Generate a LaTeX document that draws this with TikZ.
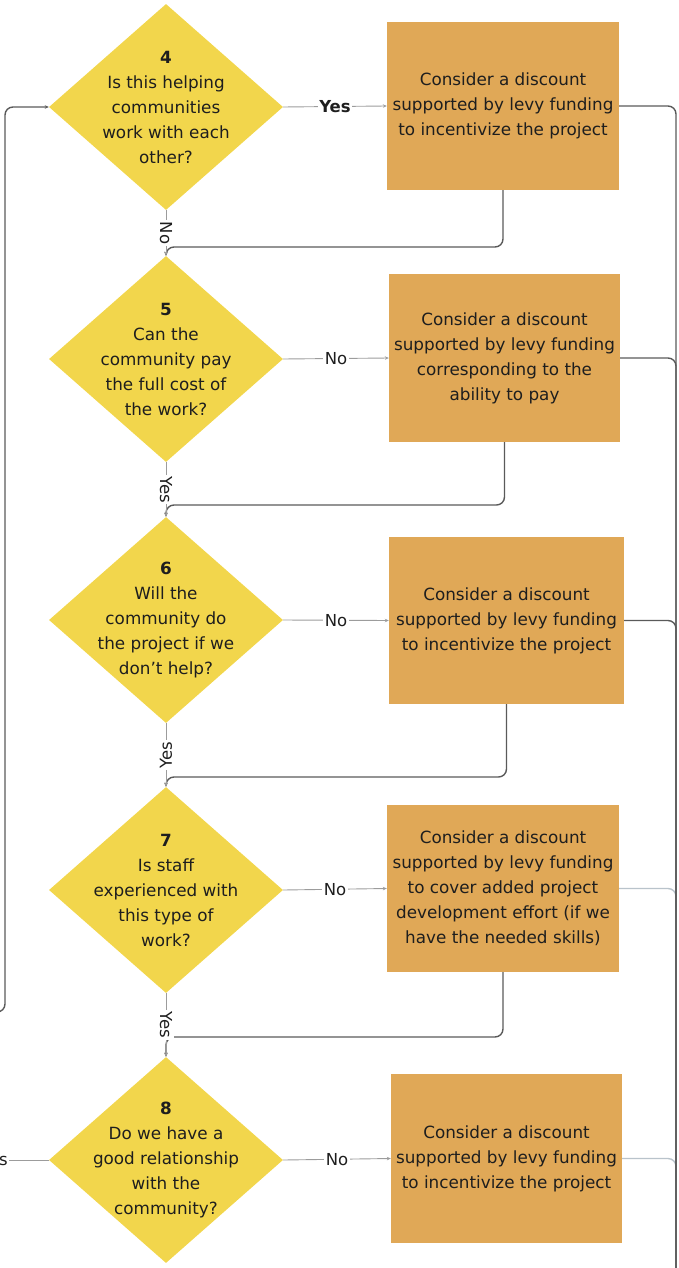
\documentclass[tikz,border=0pt]{standalone}
\usepackage{fontspec}
\setmainfont{DejaVu Sans}
\usetikzlibrary{shapes.geometric,arrows.meta}
\definecolor{dyellow}{HTML}{F2D64C}
\definecolor{borange}{HTML}{E0A857}
\definecolor{txt}{HTML}{1E1E1E}
\definecolor{darkline}{HTML}{5A5A5A}
\definecolor{lightline}{HTML}{9C9C9C}
\definecolor{blueline}{HTML}{B9C3CB}
\tikzset{
  dia/.style={shape=diamond, fill=dyellow, draw=none, inner sep=0pt, minimum width=234pt, minimum height=206pt},
  qtext/.style={text=txt, align=center, font=\fontsize{16.8}{25}\selectfont},
  box/.style={fill=borange, draw=none, inner sep=0pt, text=txt, align=center, font=\fontsize{16.8}{25}\selectfont},
  lab/.style={draw=lightline, line width=0.9pt, -{Stealth[length=4pt,width=3.5pt]}},
  lbl/.style={fill=white, text=txt, inner sep=1.5pt, font=\fontsize{16.5}{18}\selectfont},
  loopline/.style={draw=darkline, line width=1.4pt, rounded corners=8pt},
  arr/.style={-{Stealth[length=4pt,width=3.5pt]}},
}
\begin{document}
\begin{tikzpicture}[x=1pt,y=-1pt]
\useasboundingbox (0,0) rectangle (679,1268);
% diamonds
\node[dia] (d4) at (166,107) {};
\node[dia] (d5) at (166,359) {};
\node[dia] (d6) at (166,620) {};
\node[dia] (d7) at (166,890) {};
\node[dia] (d8) at (166,1160) {};
\node[qtext] (t4) at (d4) {\textbf{4}\\Is this helping\\communities\\work with each\\other?};
\node[qtext] (t5) at (d5) {\textbf{5}\\Can the\\community pay\\the full cost of\\the work?};
\node[qtext] (t6) at (d6) {\textbf{6}\\Will the\\community do\\the project if we\\don’t help?};
\node[qtext] (t7) at (d7) {\textbf{7}\\Is staff\\experienced with\\this type of\\work?};
\node[qtext] (t8) at (d8) {\textbf{8}\\Do we have a\\good relationship\\with the\\community?};
% boxes
\node[box, minimum width=232pt, minimum height=168pt] (b1) at (503,106) {Consider a discount\\supported by levy funding\\to incentivize the project};
\node[box, minimum width=231pt, minimum height=168pt] (b2) at (504.5,358) {Consider a discount\\supported by levy funding\\corresponding to the\\ability to pay};
\node[box, minimum width=235pt, minimum height=167pt] (b3) at (506.5,620.5) {Consider a discount\\supported by levy funding\\to incentivize the project};
\node[box, minimum width=232pt, minimum height=167pt] (b4) at (503,888.5) {Consider a discount\\supported by levy funding\\to cover added project\\development effort (if we\\have the needed skills)};
\node[box, minimum width=231pt, minimum height=169pt] (b5) at (506.5,1158.5) {Consider a discount\\supported by levy funding\\to incentivize the project};
% coordinates
\coordinate (rbot) at (676,1300);
\coordinate (r4) at (676,910);
\coordinate (r5) at (676,1180);
\coordinate (j5) at (166,247);
\coordinate (j6) at (166,505);
\coordinate (j7) at (166,777);
\coordinate (j8) at (166,1037);
\coordinate (lstart) at (-30,1012);
\coordinate (lc1) at (5,1012);
\coordinate (lc2) at (5,107);
\coordinate (yesend) at (-60,1160);
% right rail
\draw[loopline, draw=blueline] (b4.east) -| (r4);
\draw[loopline, draw=blueline] (b5.east) -| (r5);
\draw[loopline] (b1.east) -| (rbot);
\draw[loopline] (b2.east) -| (rbot);
\draw[loopline] (b3.east) -| (rbot);
% box bottoms back to spine
\draw[loopline, arr] (b1.south) |- (j5) -- (d5.north);
\draw[loopline, arr] (b2.south) |- (j6) -- (d6.north);
\draw[loopline, arr] (b3.south) |- (j7) -- (d7.north);
\draw[loopline, arr] (b4.south) |- (j8) -- (d8.north);
% left loop
\draw[loopline, arr] (lstart) -- (lc1) -- (lc2) -- (d4.west);
% decision to box
\draw[lab] (d4.east) -- node[lbl]{\textbf{Yes}} (b1.west);
\draw[lab] (d5.east) -- node[lbl]{No} (b2.west);
\draw[lab] (d6.east) -- node[lbl]{No} (b3.west);
\draw[lab] (d7.east) -- node[lbl]{No} (b4.west);
\draw[lab] (d8.east) -- node[lbl]{No} (b5.west);
% vertical spine labels
\draw[lab] (d4.south) -- node[lbl, rotate=-90]{No} (d5.north);
\draw[lab] (d5.south) -- node[lbl, rotate=-90]{Yes} (d6.north);
\draw[lab] (d6.south) -- node[lbl, rotate=90]{Yes} (d7.north);
\draw[lab] (d7.south) -- node[lbl, rotate=-90]{Yes} (d8.north);
% left exit of 8
\draw[draw=lightline, line width=0.9pt] (d8.west) -- node[lbl]{Yes} (yesend);
\end{tikzpicture}
\end{document}
